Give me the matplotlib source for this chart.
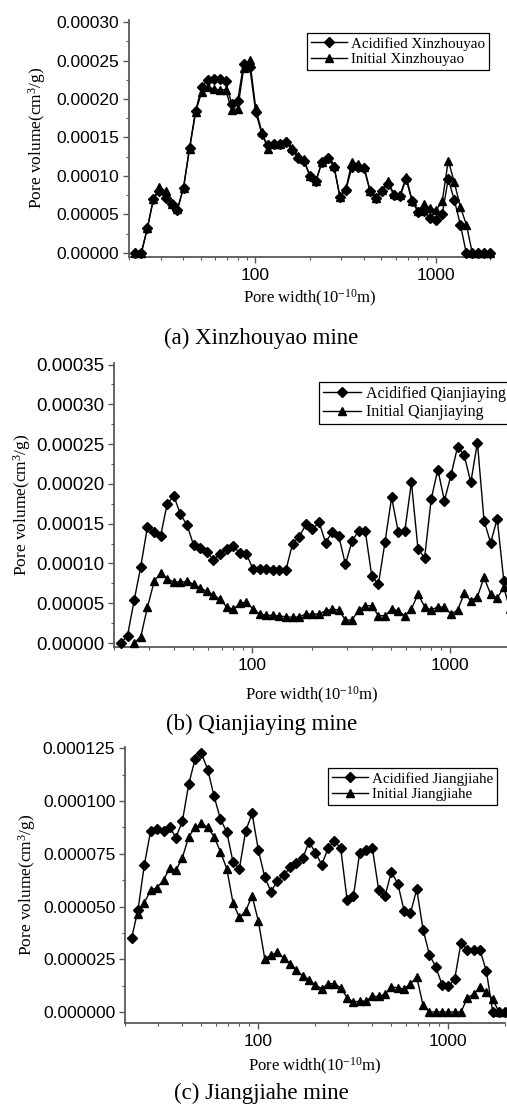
import matplotlib
matplotlib.use('Agg')
import matplotlib.pyplot as plt
import matplotlib.ticker as ticker
import numpy as np

# pore width grid shared by all curves (10^-10 m)
pore_width = [21.7, 23.4, 25.3, 27.3, 29.5, 31.9, 34.4, 37.1, 40.1, 43.3,
              46.8, 50.5, 54.5, 58.9, 63.6, 68.6, 74.1, 80.0, 86.4, 93.3,
              100.7, 108.8, 117.4, 126.8, 136.9, 147.8, 159.6, 172.4, 186.1, 201.0,
              217.0, 234.3, 253.0, 273.2, 295.0, 318.5, 343.9, 371.4, 401.0, 433.0,
              467.5, 504.8, 545.1, 588.6, 635.5, 686.2, 740.9, 800.1, 863.9, 932.8,
              1007.2, 1087.6, 1174.3, 1268.0, 1369.2, 1478.4, 1596.3, 1723.7, 1861.2, 1995.0]

nan = np.nan

# (a) Xinzhouyao
acid_xzy = [0, 0, 3.2e-5, 7.0e-5, 8.1e-5, 7.2e-5, 6.3e-5, 5.6e-5, 8.5e-5, 1.37e-4,
            1.85e-4, 2.15e-4, 2.25e-4, 2.26e-4, 2.26e-4, 2.24e-4, 1.93e-4, 1.98e-4, 2.46e-4, 2.42e-4,
            1.83e-4, 1.55e-4, 1.40e-4, 1.41e-4, 1.41e-4, 1.44e-4, 1.34e-4, 1.24e-4, 1.20e-4, 1.00e-4,
            9.4e-5, 1.18e-4, 1.24e-4, 1.12e-4, 7.3e-5, 8.2e-5, 1.12e-4, 1.12e-4, 1.10e-4, 8.0e-5,
            7.1e-5, 8.1e-5, 9.0e-5, 7.5e-5, 7.4e-5, 9.6e-5, 6.7e-5, 5.3e-5, 5.4e-5, 4.5e-5,
            4.3e-5, 5.1e-5, 9.6e-5, 6.9e-5, 3.7e-5, 0, 0, 0, 0, 0]
init_xzy = [0, 0, 3.3e-5, 7.0e-5, 8.6e-5, 8.0e-5, 6.4e-5, 5.7e-5, 8.5e-5, 1.35e-4,
            1.83e-4, 2.09e-4, 2.16e-4, 2.13e-4, 2.12e-4, 2.12e-4, 1.86e-4, 1.87e-4, 2.40e-4, 2.51e-4,
            1.88e-4, 1.57e-4, 1.35e-4, 1.41e-4, 1.41e-4, 1.46e-4, 1.37e-4, 1.26e-4, 1.22e-4, 1.00e-4,
            9.3e-5, 1.18e-4, 1.24e-4, 1.13e-4, 7.3e-5, 8.4e-5, 1.18e-4, 1.16e-4, 1.12e-4, 8.1e-5,
            7.1e-5, 8.2e-5, 9.3e-5, 7.6e-5, 7.5e-5, 9.9e-5, 6.8e-5, 5.5e-5, 6.3e-5, 5.8e-5,
            5.6e-5, 6.7e-5, 1.20e-4, 9.2e-5, 6.0e-5, 3.7e-5, 0, 0, 0, 0]

# (b) Qianjiaying
acid_qjy = [0, 9.2e-6, 5.4e-5, 9.6e-5, 1.46e-4, 1.39e-4, 1.35e-4, 1.745e-4, 1.85e-4, 1.62e-4,
            1.48e-4, 1.23e-4, 1.20e-4, 1.15e-4, 1.04e-4, 1.12e-4, 1.18e-4, 1.22e-4, 1.13e-4, 1.12e-4,
            9.3e-5, 9.3e-5, 9.3e-5, 9.2e-5, 9.2e-5, 9.2e-5, 1.25e-4, 1.335e-4, 1.49e-4, 1.43e-4,
            1.52e-4, 1.26e-4, 1.40e-4, 1.34e-4, 9.9e-5, 1.28e-4, 1.41e-4, 1.41e-4, 8.4e-5, 7.4e-5,
            1.27e-4, 1.83e-4, 1.40e-4, 1.41e-4, 2.02e-4, 1.18e-4, 1.07e-4, 1.81e-4, 2.18e-4, 1.79e-4,
            2.11e-4, 2.47e-4, 2.36e-4, 2.02e-4, 2.52e-4, 1.54e-4, 1.26e-4, 1.56e-4, 7.8e-5, nan]
init_qjy = [nan, nan, 0, 7.9e-6, 4.48e-5, 7.74e-5, 8.83e-5, 8.07e-5, 7.66e-5, 7.66e-5,
            7.74e-5, 7.4e-5, 6.9e-5, 6.5e-5, 6.07e-5, 5.48e-5, 4.56e-5, 4.23e-5, 4.98e-5, 5.15e-5,
            4.27e-5, 3.64e-5, 3.47e-5, 3.47e-5, 3.39e-5, 3.3e-5, 3.22e-5, 3.3e-5, 3.64e-5, 3.64e-5,
            3.64e-5, 4.06e-5, 4.27e-5, 4.14e-5, 2.89e-5, 2.89e-5, 4.14e-5, 4.69e-5, 4.69e-5, 3.43e-5,
            3.43e-5, 4.27e-5, 4.06e-5, 3.43e-5, 4.27e-5, 6.15e-5, 4.56e-5, 4.14e-5, 4.56e-5, 4.48e-5,
            3.64e-5, 4.14e-5, 6.23e-5, 5.31e-5, 5.82e-5, 8.24e-5, 6.15e-5, 5.65e-5, 6.99e-5, 4.3e-5]

# (c) Jiangjiahe
acid_jjh = [3.53e-5, 4.83e-5, 6.99e-5, 8.59e-5, 8.69e-5, 8.59e-5, 8.75e-5, 8.27e-5, 9.05e-5, 1.08e-4,
            1.20e-4, 1.226e-4, 1.149e-4, 1.022e-4, 9.14e-5, 8.54e-5, 7.10e-5, 6.80e-5, 8.59e-5, 9.41e-5,
            7.67e-5, 6.39e-5, 5.70e-5, 6.23e-5, 6.49e-5, 6.85e-5, 7.04e-5, 7.29e-5, 8.07e-5, 7.55e-5,
            6.99e-5, 7.75e-5, 8.12e-5, 7.75e-5, 5.33e-5, 5.49e-5, 7.56e-5, 7.70e-5, 7.75e-5, 5.77e-5,
            5.51e-5, 6.64e-5, 6.09e-5, 4.81e-5, 4.67e-5, 5.82e-5, 3.91e-5, 2.72e-5, 2.14e-5, 1.30e-5,
            1.22e-5, 1.58e-5, 3.29e-5, 2.93e-5, 2.96e-5, 2.93e-5, 1.93e-5, 0, 0, 0]
init_jjh = [nan, 4.64e-5, 5.19e-5, 5.77e-5, 5.90e-5, 6.25e-5, 6.83e-5, 6.72e-5, 7.32e-5, 8.31e-5,
            8.75e-5, 8.94e-5, 8.75e-5, 8.31e-5, 7.59e-5, 6.80e-5, 5.17e-5, 4.48e-5, 4.79e-5, 5.51e-5,
            4.30e-5, 2.53e-5, 2.69e-5, 2.83e-5, 2.56e-5, 2.29e-5, 1.98e-5, 1.72e-5, 1.53e-5, 1.27e-5,
            1.11e-5, 1.34e-5, 1.34e-5, 1.15e-5, 6.8e-6, 4.7e-6, 5.2e-6, 5.2e-6, 7.4e-6, 7.4e-6,
            8.4e-6, 1.19e-5, 1.15e-5, 1.09e-5, 1.34e-5, 1.66e-5, 3.2e-6, 0, 0, 0,
            0, 0, 0, 6.8e-6, 8.5e-6, 1.17e-5, 9.6e-6, 6.0e-6, 0, 0]

plt.rcParams['font.family'] = 'Liberation Sans'
plt.rcParams['mathtext.fontset'] = 'custom'
plt.rcParams['mathtext.rm'] = 'Liberation Serif'
plt.rcParams['mathtext.it'] = 'Liberation Serif:italic'
serif = 'Liberation Serif'

W, H = 507, 1104
fig = plt.figure(figsize=(W / 100, H / 100), dpi=100, facecolor='white')

def px_axes(left, top, right, bottom):
    return fig.add_axes([left / W, 1 - bottom / H, (right - left) / W, (bottom - top) / H])

panels = [
    dict(box=(129, 20, 490, 257), acid=acid_xzy, init=init_xzy, name='Xinzhouyao',
         ylim=(-5.2e-6, 3.026e-4), ystep=5e-5, ymax=3e-4, fmt='%.5f', tsize=12.5, lsize=10.8,
         leg=(307, 33), xlab=298, ylab=(37, 138), cap=(261, 338, '(a) Xinzhouyao mine')),
    dict(box=(114, 363, 510, 647), acid=acid_qjy, init=init_qjy, name='Qianjiaying',
         ylim=(-5.0e-6, 3.52e-4), ystep=5e-5, ymax=3.5e-4, fmt='%.5f', tsize=13.5, lsize=11.5,
         leg=(319, 382), xlab=695, ylab=(22, 505), cap=(262, 724, '(b) Qianjiaying mine')),
    dict(box=(125, 747, 505, 1023), acid=acid_jjh, init=init_jjh, name='Jiangjiahe',
         ylim=(-5.2e-6, 1.256e-4), ystep=2.5e-5, ymax=1.25e-4, fmt='%.6f', tsize=12.5, lsize=10.8,
         leg=(328, 768), xlab=1066, ylab=(27, 885), cap=(261, 1093, '(c) Jiangjiahe mine')),
]

for p in panels:
    ax = px_axes(*p['box'])
    ax.plot(pore_width, p['acid'], color='black', lw=1.0, marker='D', ms=5,
            label='Acidified ' + p['name'], clip_on=False, zorder=3)
    ax.plot(pore_width, p['init'], color='black', lw=1.0, marker='^', ms=6,
            label='Initial ' + p['name'], clip_on=False, zorder=3)

    ax.set_xscale('log')
    ax.set_xlim(20, 2000)
    ax.set_ylim(*p['ylim'])
    ax.set_xticks([100, 1000])
    ax.set_xticklabels(['100', '1000'])
    ax.xaxis.set_minor_locator(ticker.LogLocator(base=10, subs=np.arange(2, 10), numticks=20))
    ax.xaxis.set_minor_formatter(ticker.NullFormatter())
    ax.set_yticks(np.arange(0, p['ymax'] + p['ystep'] / 2, p['ystep']))
    ax.yaxis.set_major_formatter(ticker.FormatStrFormatter(p['fmt']))
    ax.yaxis.set_minor_locator(ticker.AutoMinorLocator(2))

    for s in ['top', 'right']:
        ax.spines[s].set_visible(False)
    for s in ['left', 'bottom']:
        ax.spines[s].set_color('0.35')
        ax.spines[s].set_linewidth(1.3)
    ax.tick_params(which='major', direction='out', length=4, width=1, color='0.35',
                   labelsize=p['tsize'], pad=3)
    ax.tick_params(which='minor', direction='out', length=2.5, width=0.8, color='0.35')
    ax.tick_params(axis='x', labelsize=12.5, pad=4)

    lx, ly = p['leg']
    ax.legend(loc='upper left', bbox_to_anchor=(lx / W, 1 - ly / H),
              bbox_transform=fig.transFigure, frameon=True, fancybox=False,
              edgecolor='black', framealpha=1, borderpad=0.25, labelspacing=0.15,
              handlelength=2.4, handletextpad=0.3, borderaxespad=0,
              prop={'family': serif, 'size': p['lsize']}).get_frame().set_linewidth(0.9)

    left, top, right, bottom = p['box']
    fig.text((left + right) / 2 / W, 1 - p['xlab'] / H, 'Pore width(10$^{-10}$m)',
             ha='center', va='center', family=serif, size=12)
    yx, yy = p['ylab']
    fig.text(yx / W, 1 - yy / H, 'Pore volume(cm$^{3}$/g)', rotation=90,
             ha='center', va='center', family=serif, size=12.5)
    cx, cy, ctext = p['cap']
    fig.text(cx / W, 1 - cy / H, ctext, ha='center', va='center', family=serif, size=16.5)

fig.savefig('out.png', dpi=100, facecolor='white')
